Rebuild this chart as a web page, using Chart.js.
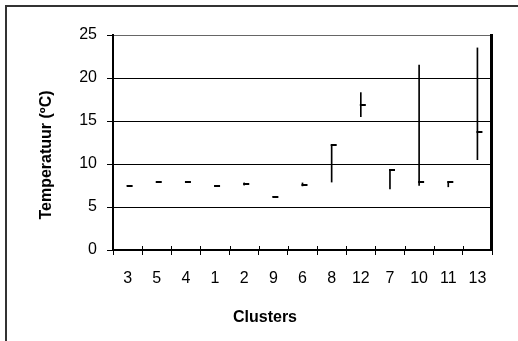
<!DOCTYPE html>
<html>
<head>
<meta charset="utf-8">
<script src="https://cdn.jsdelivr.net/npm/chart.js@4/dist/chart.umd.min.js"></script>
<style>
  html, body { margin: 0; padding: 0; background: #fff; }
  .wpr { position: relative; width: 518px; height: 341px; }
  canvas { position: absolute; left: 0; top: 0; }
</style>
</head>
<body>
<div class="wpr">
  <canvas id="chart" width="518" height="341"></canvas>
</div>
<script>
// clusters in the order shown on the x axis
const clusters = ['3', '5', '4', '1', '2', '9', '6', '8', '12', '7', '10', '11', '13'];
// temperature range (low / high) and closing value per cluster
const lows   = [7.5, 7.9, 7.9, 7.45, 7.55, 6.2, 7.45, 7.9, 15.5, 7.1, 7.5, 7.35, 10.5];
const highs  = [7.5, 7.9, 7.9, 7.45, 7.8, 6.2, 7.8, 12.2, 18.3, 9.3, 21.5, 7.95, 23.5];
const closes = [7.5, 7.9, 7.9, 7.45, 7.7, 6.2, 7.6, 12.2, 16.9, 9.3, 7.95, 7.9, 13.7];
const yTicks = [0, 5, 10, 15, 20, 25];

const yTitle = 'Temperatuur (ºC)';
const xTitle = 'Clusters';

// small dash to the right of the point (close marker)
function closeMark() {
    const c = document.createElement('canvas');
    c.width = 12;
    c.height = 2;
    const ctx = c.getContext('2d');
    ctx.fillStyle = '#000';
    ctx.fillRect(5, 0, 6, 2);
    return c;
}

// outer frame, plot edge and the axis titles
const decor = {
    id: 'decor',
    afterDraw(chart) {
        const ctx = chart.ctx;
        const area = chart.chartArea;
        ctx.save();
        ctx.fillStyle = '#333';
        ctx.fillRect(5, 5, 2, chart.height - 5);
        ctx.fillRect(5, 5, chart.width - 5, 2);

        // right edge of the plot
        ctx.fillStyle = '#000';
        ctx.fillRect(Math.floor(area.right) - 2, Math.floor(area.top) - 1, 3, Math.ceil(area.bottom - area.top) + 2);
        // short ticks above the x axis, like the original
        const xs = chart.scales.x;
        for (let i = 0; i <= clusters.length; i++) {
            const px = Math.round(xs.left + i * (xs.right - xs.left) / clusters.length);
            ctx.fillRect(px, Math.round(area.bottom) - 4, 1, 4);
        }

        ctx.font = 'bold 16px "Liberation Sans", Arial, sans-serif';
        ctx.textAlign = 'center';
        ctx.textBaseline = 'middle';
        ctx.fillText(xTitle, 265, 318);
        ctx.translate(47, 155);
        ctx.rotate(-Math.PI / 2);
        ctx.fillText(yTitle, 0, 0);
        ctx.restore();
    }
};

const ranges = clusters.map((c, i) => [lows[i], highs[i]]);

new Chart(document.getElementById('chart'), {
    type: 'bar',
    data: {
        labels: clusters,
        datasets: [{
            type: 'bar',
            data: ranges,
            backgroundColor: '#000',
            borderWidth: 0,
            barThickness: 1,
            xAxisID: 'x',
            yAxisID: 'y'
        }, {
            type: 'line',
            data: closes,
            showLine: false,
            pointStyle: closeMark(),
            xAxisID: 'x',
            yAxisID: 'y'
        }]
    },
    options: {
        responsive: false,
        animation: false,
        layout: { padding: { left: 0, top: 35, right: 26, bottom: 0 } },
        plugins: { legend: { display: false }, tooltip: { enabled: false } },
        scales: {
            x: {
                offset: true,
                grid: { offset: true, drawOnChartArea: false, tickLength: 5, color: '#000' },
                border: { color: '#000', width: 2 },
                ticks: {
                    color: '#000', padding: 14, maxRotation: 0, autoSkip: false,
                    font: { family: '"Liberation Sans", Arial, sans-serif', size: 16 }
                },
                afterFit(scale) { scale.height = 91; }
            },
            y: {
                min: 0,
                max: 25,
                afterBuildTicks(scale) { scale.ticks = yTicks.map(v => ({ value: v })); },
                grid: { color: ctx => ctx.tick && ctx.tick.value === 25 ? '#666' : '#000', tickLength: 6, tickColor: '#000' },
                border: { color: '#000', width: 2 },
                ticks: {
                    color: '#000', padding: 10,
                    font: { family: '"Liberation Sans", Arial, sans-serif', size: 16 }
                },
                afterFit(scale) { scale.width = 113; }
            }
        }
    },
    plugins: [decor]
});
</script>
</body>
</html>
